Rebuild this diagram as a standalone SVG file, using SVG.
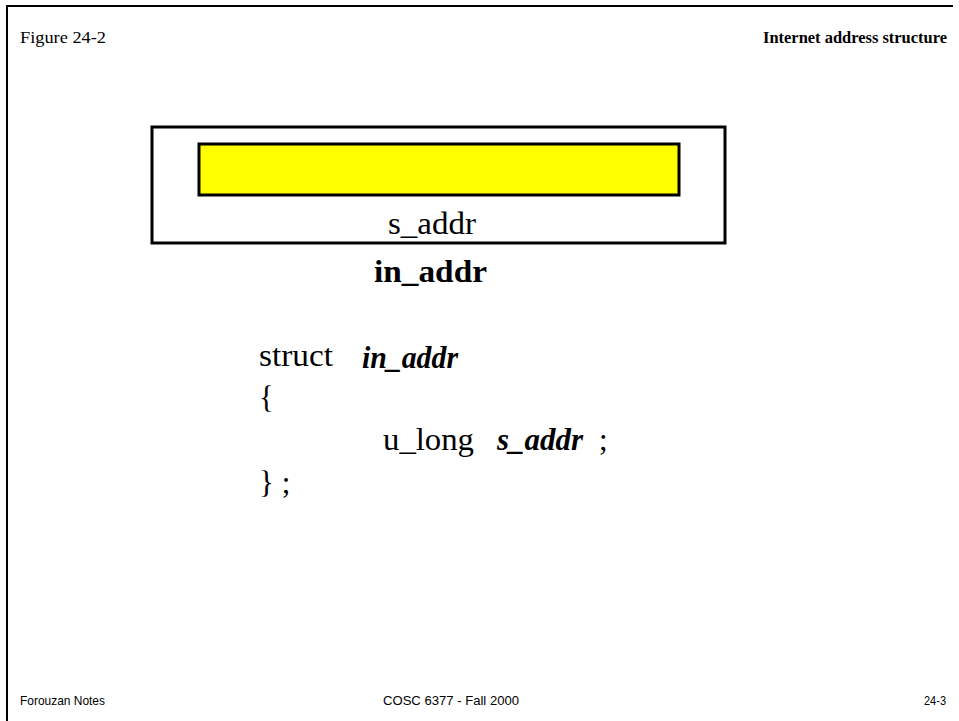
<svg xmlns="http://www.w3.org/2000/svg" width="959" height="721" viewBox="0 0 959 721">
<style>
.t{font-family:"Liberation Serif","Times New Roman",serif;fill:#000}
.a{font-family:"Liberation Sans",Arial,sans-serif;fill:#000;font-size:13.5px}
.c{font-size:31px}
.bi{font-weight:bold;font-style:italic}
</style>
<rect width="959" height="721" fill="#fff"/>
<g id="frame">
<line x1="7" y1="6" x2="953" y2="6" stroke="#000" stroke-width="2"/>
<line x1="7" y1="5" x2="7" y2="721" stroke="#000" stroke-width="2"/>
</g>
<g id="header">
<text class="t" x="20" y="43" font-size="17" textLength="86" lengthAdjust="spacingAndGlyphs">Figure 24-2</text>
<text class="t" x="763" y="43" font-size="17" font-weight="bold" textLength="184" lengthAdjust="spacingAndGlyphs">Internet address structure</text>
</g>
<g id="in_addr_box">
<rect x="152" y="127" width="573" height="116" fill="#fff" stroke="#000" stroke-width="3"/>
<text class="t c" x="388" y="234" textLength="88" lengthAdjust="spacingAndGlyphs">s_addr</text>
</g>
<g id="s_addr_field">
<rect x="199" y="144" width="480" height="51" fill="#ffff00" stroke="#000" stroke-width="3"/>
</g>
<g id="in_addr_label">
<text class="t" x="374" y="282" font-size="31" font-weight="bold" textLength="113" lengthAdjust="spacingAndGlyphs">in_addr</text>
</g>
<g id="code">
<text class="t c" x="259" y="366" textLength="74" lengthAdjust="spacingAndGlyphs">struct</text>
<text class="t c bi" x="362" y="368" textLength="96" lengthAdjust="spacingAndGlyphs">in_addr</text>
<text class="t c" x="259" y="408">{</text>
<text class="t c" x="383" y="450" textLength="91" lengthAdjust="spacingAndGlyphs">u_long</text>
<text class="t c bi" x="497" y="450" textLength="86" lengthAdjust="spacingAndGlyphs">s_addr</text>
<text class="t c" x="599" y="450">;</text>
<text class="t c" x="259" y="493">} ;</text>
</g>
<g id="footer">
<text class="a" x="20" y="705" textLength="85" lengthAdjust="spacingAndGlyphs">Forouzan Notes</text>
<text class="a" x="383" y="705" textLength="136" lengthAdjust="spacingAndGlyphs">COSC 6377 - Fall 2000</text>
<text class="a" x="924" y="705" textLength="22" lengthAdjust="spacingAndGlyphs">24-3</text>
</g>
</svg>
